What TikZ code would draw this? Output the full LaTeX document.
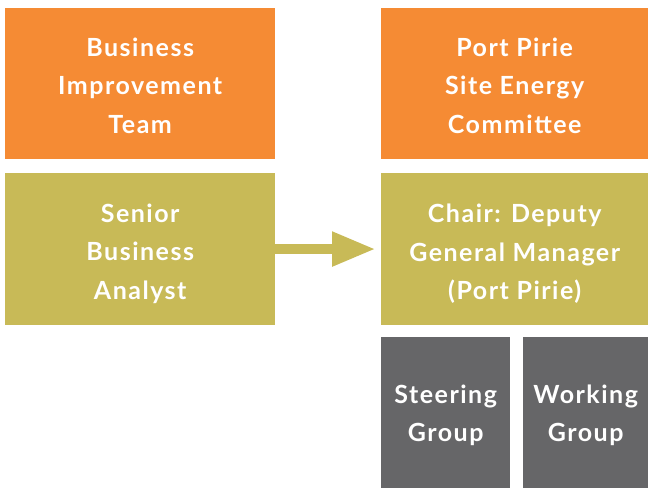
\documentclass[tikz,border=0pt]{standalone}
\usepackage{fontspec}
\setmainfont{Lato}[LetterSpace=6]
\usetikzlibrary{arrows.meta,positioning}
\definecolor{orgfill}{HTML}{F58B34}
\definecolor{olvfill}{HTML}{C8BA57}
\definecolor{gryfill}{HTML}{666668}
% drops the first text line a little inside a box
\newcommand{\topgap}[1]{\rule{0pt}{#1}}
\tikzset{
  blk/.style={anchor=north west,inner sep=0pt,align=center,text=white,
    font=\bfseries\fontsize{25}{38.5}\selectfont},
  orgbox/.style={blk,fill=orgfill,minimum height=151pt},
  olvbox/.style={blk,fill=olvfill,minimum height=151.7pt},
  grybox/.style={blk,fill=gryfill,minimum height=151pt},
  fatarrow/.style={draw=olvfill,line width=10.7pt,
    -{Triangle[length=44pt,width=32pt]},shorten >=5pt},
}

\begin{document}
\begin{tikzpicture}[x=1pt,y=-1pt]
  \useasboundingbox (0,0) rectangle (648,488);
  \node[orgbox,minimum width=270pt] (bit) at (5,8)
    {\topgap{22pt}Business\\Improvement\\Team};
  \node[orgbox,minimum width=267pt] (psec) at (381,8)
    {\topgap{22pt}Port Pirie\\Site Energy\\Committee};
  \node[olvbox,minimum width=270pt] (sba) at (5,173)
    {\topgap{28pt}Senior\\Business\\Analyst};
  \node[olvbox,minimum width=267pt] (chair) at (381,173)
    {\topgap{28pt}Chair: Deputy\\General Manager\\(Port Pirie)};
  \node[grybox,minimum width=129pt] (steer) at (381,337)
    {\topgap{24pt}Steering\\Group};
  \node[grybox,minimum width=125pt] (work) at (523,337)
    {\topgap{24pt}Working\\Group};
  \draw[fatarrow] (sba.east) -- (chair.west);
\end{tikzpicture}
\end{document}
